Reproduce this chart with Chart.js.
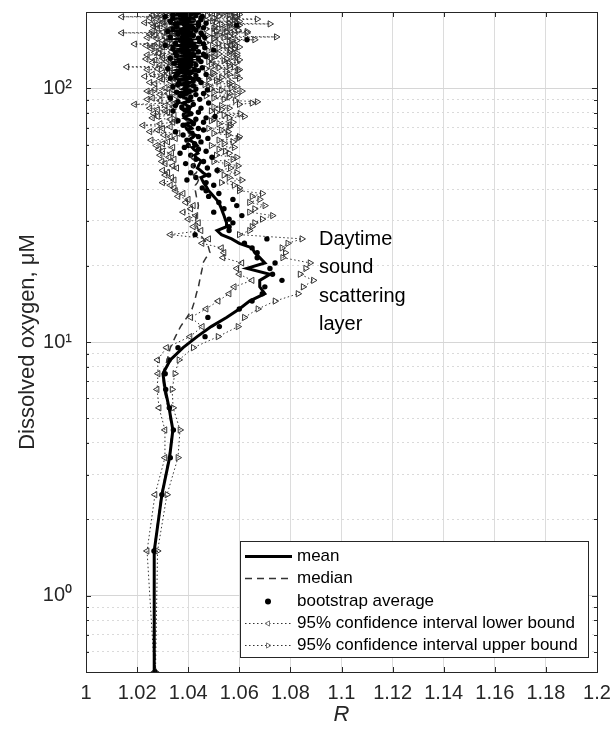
<!DOCTYPE html>
<html><head><meta charset="utf-8">
<script src="https://cdn.jsdelivr.net/npm/chart.js@4/dist/chart.umd.min.js"></script>
<style>html,body{margin:0;padding:0;background:#fff;}canvas{display:block;}</style>
</head><body>
<canvas id="c" width="613" height="734"></canvas>
<script>
// Dissolved oxygen bins (µM)
const oxygen = [
 0.5,1.5,2.5,3.5,4.5,5.5,6.5,7.5,8.5,9.5,
 10.5,11.5,12.5,13.5,14.5,15.5,16.5,17.5,18.5,19.5,
 20.5,21.5,22.5,23.5,24.5,25.5,26.5,27.5,28.5,29.5,
 30.5,31.5,32.5,33.5,34.5,35.5,36.5,37.5,38.5,39.5,
 40.5,41.5,42.5,43.5,44.5,45.5,46.5,47.5,48.5,49.5,
 50.5,51.5,52.5,53.5,54.5,55.5,56.5,57.5,58.5,59.5,
 60.5,61.5,62.5,63.5,64.5,65.5,66.5,67.5,68.5,69.5,
 70.5,71.5,72.5,73.5,74.5,75.5,76.5,77.5,78.5,79.5,
 80.5,81.5,82.5,83.5,84.5,85.5,86.5,87.5,88.5,89.5,
 90.5,91.5,92.5,93.5,94.5,95.5,96.5,97.5,98.5,99.5,
 100.5,101.5,102.5,103.5,104.5,105.5,106.5,107.5,108.5,109.5,
 110.5,111.5,112.5,113.5,114.5,115.5,116.5,117.5,118.5,119.5,
 120.5,121.5,122.5,123.5,124.5,125.5,126.5,127.5,128.5,129.5,
 130.5,131.5,132.5,133.5,134.5,135.5,136.5,137.5,138.5,139.5,
 140.5,141.5,142.5,143.5,144.5,145.5,146.5,147.5,148.5,149.5,
 150.5,151.5,152.5,153.5,154.5,155.5,156.5,157.5,158.5,159.5,
 160.5,161.5,162.5,163.5,164.5,165.5,166.5,167.5,168.5,169.5,
 170.5,171.5,172.5,173.5,174.5,175.5,176.5,177.5,178.5,179.5,
 180.5,181.5,182.5,183.5,184.5,185.5,186.5,187.5,188.5,189.5,
 190.5,191.5,192.5,193.5,194.5,195.5,196.5,197.5,198.5,199.5
];
const meanR = [
 1.0270,1.0267,1.0297,1.0327,1.0340,1.0325,1.0310,1.0301,1.0330,1.0380,
 1.0435,1.0490,1.0550,1.0600,1.0640,1.0700,1.0680,1.0680,1.0720,1.0630,
 1.0700,1.0680,1.0660,1.0650,1.0600,1.0570,1.0530,1.0513,1.0550,1.0550,
 1.0545,1.0540,1.0535,1.0530,1.0525,1.0520,1.0510,1.0500,1.0490,1.0480,
 1.0474,1.0468,1.0460,1.0455,1.0450,1.0472,1.0458,1.0448,1.0436,1.0440,
 1.0445,1.0452,1.0442,1.0430,1.0425,1.0438,1.0432,1.0422,1.0416,1.0435,
 1.0428,1.0418,1.0405,1.0410,1.0422,1.0428,1.0412,1.0405,1.0398,1.0415,
 1.0410,1.0398,1.0392,1.0420,1.0412,1.0402,1.0385,1.0392,1.0402,1.0410,
 1.0395,1.0385,1.0378,1.0405,1.0410,1.0395,1.0388,1.0378,1.0395,1.0412,
 1.0402,1.0390,1.0380,1.0372,1.0390,1.0400,1.0372,1.0415,1.0405,1.0380,
 1.0388,1.0395,1.0410,1.0368,1.0380,1.0408,1.0395,1.0388,1.0370,1.0420,
 1.0402,1.0375,1.0385,1.0398,1.0410,1.0362,1.0380,1.0405,1.0368,1.0385,
 1.0400,1.0372,1.0390,1.0418,1.0372,1.0392,1.0410,1.0365,1.0385,1.0402,
 1.0368,1.0380,1.0400,1.0425,1.0382,1.0395,1.0412,1.0370,1.0402,1.0388,
 1.0372,1.0410,1.0395,1.0375,1.0388,1.0400,1.0415,1.0360,1.0378,1.0392,
 1.0370,1.0415,1.0398,1.0378,1.0388,1.0405,1.0365,1.0385,1.0410,1.0368,
 1.0392,1.0420,1.0370,1.0390,1.0402,1.0375,1.0388,1.0408,1.0365,1.0382,
 1.0398,1.0362,1.0412,1.0398,1.0380,1.0422,1.0395,1.0388,1.0405,1.0370,
 1.0385,1.0405,1.0372,1.0392,1.0410,1.0365,1.0395,1.0412,1.0370,1.0385,
 1.0405,1.0398,1.0385,1.0372,1.0400,1.0418,1.0378,1.0390,1.0410,1.0402
];
const medianR = [
 1.0270,1.0266,1.0295,1.0325,1.0338,1.0322,1.0305,1.0300,1.0318,1.0330,
 1.0350,1.0370,1.0395,1.0415,1.0425,1.0432,1.0440,1.0445,1.0450,1.0455,
 1.0458,1.0470,1.0485,1.0480,1.0474,1.0460,1.0446,1.0440,1.0435,1.0427,
 1.0430,1.0432,1.0435,1.0438,1.0440,1.0438,1.0435,1.0432,1.0430,1.0428,
 1.0430,1.0428,1.0436,1.0440,1.0425,1.0420,1.0432,1.0435,1.0422,1.0415,
 1.0424,1.0430,1.0418,1.0410,1.0412,1.0418,1.0422,1.0425,1.0410,1.0405,
 1.0412,1.0400,1.0408,1.0418,1.0400,1.0410,1.0402,1.0395,1.0405,1.0412,
 1.0398,1.0392,1.0402,1.0405,1.0394,1.0388,1.0398,1.0410,1.0390,1.0395,
 1.0400,1.0385,1.0392,1.0400,1.0390,1.0382,1.0395,1.0392,1.0385,1.0405,
 1.0392,1.0375,1.0385,1.0398,1.0390,1.0388,1.0380,1.0372,1.0395,1.0405,
 1.0382,1.0390,1.0400,1.0370,1.0385,1.0400,1.0378,1.0382,1.0395,1.0408,
 1.0375,1.0368,1.0392,1.0395,1.0380,1.0372,1.0400,1.0410,1.0390,1.0385,
 1.0372,1.0370,1.0398,1.0402,1.0380,1.0390,1.0375,1.0368,1.0395,1.0408,
 1.0385,1.0375,1.0392,1.0395,1.0402,1.0412,1.0380,1.0370,1.0392,1.0388,
 1.0378,1.0402,1.0390,1.0372,1.0385,1.0365,1.0398,1.0405,1.0380,1.0390,
 1.0402,1.0405,1.0378,1.0390,1.0372,1.0368,1.0395,1.0385,1.0410,1.0372,
 1.0388,1.0400,1.0375,1.0412,1.0382,1.0366,1.0390,1.0395,1.0380,1.0405,
 1.0398,1.0372,1.0385,1.0388,1.0402,1.0410,1.0378,1.0392,1.0400,1.0368,
 1.0390,1.0402,1.0382,1.0385,1.0372,1.0410,1.0395,1.0392,1.0380,1.0368,
 1.0388,1.0402,1.0410,1.0385,1.0392,1.0380,1.0375,1.0395,1.0388,1.0400
];
const bootR = [
 1.0270,1.0266,1.0297,1.0330,1.0342,1.0326,1.0312,1.0310,1.0325,1.0360,
 1.0466,1.0522,1.0477,1.0600,1.0650,1.0690,1.0700,1.0767,1.0730,1.0720,
 1.0740,1.0670,1.0670,1.0650,1.0620,1.0708,1.0427,1.0560,1.0560,1.0575,
 1.0560,1.0610,1.0500,1.0540,1.0590,1.0520,1.0575,1.0480,1.0520,1.0470,
 1.0455,1.0500,1.0470,1.0395,1.0430,1.0480,1.0410,1.0513,1.0475,1.0420,
 1.0390,1.0460,1.0430,1.0493,1.0410,1.0368,1.0470,1.0440,1.0385,1.0400,
 1.0425,1.0450,1.0395,1.0477,1.0440,1.0380,1.0415,1.0350,1.0460,1.0440,
 1.0395,1.0380,1.0420,1.0460,1.0360,1.0430,1.0470,1.0505,1.0385,1.0410,
 1.0440,1.0340,1.0400,1.0450,1.0375,1.0350,1.0420,1.0480,1.0360,1.0400,
 1.0445,1.0330,1.0410,1.0370,1.0430,1.0460,1.0355,1.0400,1.0475,1.0430,
 1.0390,1.0340,1.0420,1.0360,1.0395,1.0450,1.0365,1.0420,1.0440,1.0330,
 1.0405,1.0350,1.0430,1.0470,1.0360,1.0410,1.0385,1.0440,1.0425,1.0320,
 1.0455,1.0400,1.0370,1.0430,1.0410,1.0345,1.0390,1.0450,1.0365,1.0410,
 1.0440,1.0330,1.0395,1.0470,1.0355,1.0420,1.0460,1.0350,1.0400,1.0440,
 1.0370,1.0500,1.0420,1.0340,1.0465,1.0430,1.0380,1.0310,1.0420,1.0460,
 1.0350,1.0380,1.0445,1.0410,1.0370,1.0630,1.0405,1.0440,1.0465,1.0330,
 1.0390,1.0420,1.0455,1.0360,1.0400,1.0450,1.0375,1.0320,1.0410,1.0430,
 1.0380,1.0340,1.0420,1.0460,1.0355,1.0410,1.0440,1.0590,1.0385,1.0350,
 1.0470,1.0440,1.0365,1.0330,1.0410,1.0420,1.0450,1.0390,1.0340,1.0450,
 1.0400,1.0310,1.0455,1.0430,1.0370,1.0340,1.0420,1.0410,1.0360,1.0440
];
const lowerR = [
 1.0268,1.0239,1.0270,1.0309,1.0309,1.0286,1.0278,1.0282,1.0280,1.0315,
 1.0407,1.0455,1.0410,1.0470,1.0517,1.0560,1.0580,1.0650,1.0600,1.0590,
 1.0610,1.0536,1.0540,1.0530,1.0454,1.0480,1.0330,1.0450,1.0420,1.0440,
 1.0400,1.0430,1.0380,1.0410,1.0420,1.0390,1.0400,1.0360,1.0380,1.0350,
 1.0345,1.0330,1.0300,1.0345,1.0335,1.0310,1.0320,1.0300,1.0355,1.0340,
 1.0310,1.0297,1.0345,1.0325,1.0290,1.0335,1.0300,1.0285,1.0340,1.0275,
 1.0300,1.0320,1.0255,1.0350,1.0330,1.0305,1.0360,1.0250,1.0280,1.0300,
 1.0330,1.0223,1.0290,1.0340,1.0350,1.0330,1.0260,1.0280,1.0345,1.0265,
 1.0320,1.0310,1.0280,1.0250,1.0345,1.0310,1.0190,1.0330,1.0355,1.0290,
 1.0240,1.0260,1.0330,1.0350,1.0290,1.0320,1.0255,1.0240,1.0340,1.0270,
 1.0310,1.0335,1.0360,1.0355,1.0270,1.0250,1.0330,1.0355,1.0300,1.0290,
 1.0345,1.0230,1.0340,1.0260,1.0320,1.0300,1.0350,1.0365,1.0240,1.0280,
 1.0330,1.0160,1.0330,1.0290,1.0355,1.0345,1.0260,1.0315,1.0340,1.0270,
 1.0235,1.0300,1.0330,1.0360,1.0300,1.0240,1.0355,1.0285,1.0270,1.0335,
 1.0350,1.0365,1.0290,1.0255,1.0330,1.0300,1.0260,1.0235,1.0345,1.0190,
 1.0280,1.0310,1.0320,1.0345,1.0300,1.0325,1.0360,1.0275,1.0240,1.0310,
 1.0330,1.0355,1.0270,1.0250,1.0345,1.0140,1.0300,1.0340,1.0260,1.0320,
 1.0330,1.0330,1.0280,1.0360,1.0350,1.0265,1.0310,1.0280,1.0345,1.0350,
 1.0260,1.0230,1.0300,1.0305,1.0330,1.0340,1.0360,1.0295,1.0275,1.0250,
 1.0345,1.0140,1.0300,1.0355,1.0260,1.0330,1.0340,1.0275,1.0350,1.0310
];
const upperR = [
 1.0272,1.0280,1.0317,1.0360,1.0368,1.0341,1.0337,1.0348,1.0364,1.0420,
 1.0517,1.0595,1.0620,1.0673,1.0740,1.0830,1.0850,1.0890,1.0838,1.0860,
 1.0877,1.0770,1.0780,1.0767,1.0790,1.0845,1.0600,1.0640,1.0650,1.0660,
 1.0690,1.0730,1.0640,1.0660,1.0700,1.0640,1.0680,1.0650,1.0690,1.0600,
 1.0600,1.0580,1.0530,1.0610,1.0560,1.0540,1.0590,1.0520,1.0565,1.0595,
 1.0550,1.0500,1.0575,1.0590,1.0510,1.0560,1.0545,1.0520,1.0580,1.0490,
 1.0540,1.0575,1.0520,1.0595,1.0600,1.0556,1.0500,1.0556,1.0530,1.0480,
 1.0560,1.0565,1.0520,1.0575,1.0490,1.0500,1.0560,1.0620,1.0540,1.0603,
 1.0510,1.0490,1.0530,1.0560,1.0500,1.0530,1.0600,1.0650,1.0670,1.0585,
 1.0540,1.0500,1.0560,1.0470,1.0590,1.0560,1.0500,1.0610,1.0530,1.0490,
 1.0570,1.0590,1.0480,1.0465,1.0560,1.0570,1.0520,1.0510,1.0480,1.0600,
 1.0530,1.0480,1.0590,1.0560,1.0500,1.0495,1.0550,1.0595,1.0600,1.0470,
 1.0520,1.0580,1.0560,1.0505,1.0490,1.0560,1.0590,1.0480,1.0540,1.0600,
 1.0550,1.0490,1.0500,1.0575,1.0590,1.0465,1.0520,1.0590,1.0560,1.0500,
 1.0480,1.0565,1.0580,1.0580,1.0520,1.0600,1.0550,1.0495,1.0570,1.0580,
 1.0520,1.0470,1.0560,1.0570,1.0590,1.0660,1.0500,1.0500,1.0540,1.0745,
 1.0560,1.0475,1.0520,1.0580,1.0500,1.0630,1.0550,1.0630,1.0510,1.0595,
 1.0540,1.0470,1.0500,1.0570,1.0590,1.0505,1.0560,1.0600,1.0530,1.0720,
 1.0560,1.0590,1.0510,1.0600,1.0495,1.0470,1.0580,1.0670,1.0560,1.0500,
 1.0590,1.0585,1.0520,1.0475,1.0560,1.0600,1.0510,1.0580,1.0540,1.0490
];
const xTickValues = [1,1.02,1.04,1.06,1.08,1.1,1.12,1.14,1.16,1.18,1.2];
const yTickLabels = {1:'10\u2070', 10:'10\u00B9', 100:'10\u00B2'};
const seriesNames = ['mean','median','bootstrap average','95% confidence interval lower bound','95% confidence interval upper bound'];
const annotationLines = ['Daytime','sound','scattering','layer'];

const FONT = "'Liberation Sans', Arial, Helvetica, sans-serif";
const AX = '#262626';
const pts = arr => arr.map((r,i)=>({x:r, y:oxygen[i]}));
const isDecade = v => { const l=Math.log10(v); return Math.abs(l-Math.round(l))<1e-6; };
const intMantissa = v => { const e=Math.floor(Math.log10(v)+1e-9); const m=v/Math.pow(10,e); return Math.abs(m-Math.round(m))<1e-6; };

const datasets = [
 {label:seriesNames[0], data:pts(meanR), showLine:true, borderColor:'#000', borderWidth:3, pointRadius:0, tension:0},
 {label:seriesNames[1], data:pts(medianR), showLine:true, borderColor:'#333', borderWidth:1.5, borderDash:[7,5], pointRadius:0, tension:0},
 {label:seriesNames[2], data:pts(bootR), showLine:false, pointRadius:2.7, pointBackgroundColor:'#000', pointBorderColor:'#000', pointBorderWidth:0},
 {label:seriesNames[3], data:pts(lowerR), showLine:true, borderColor:'#333', borderWidth:1, borderDash:[1.5,2.5], pointStyle:'triangle', pointRotation:-90, pointRadius:3.6, pointBorderColor:'#333', pointBackgroundColor:'rgba(255,255,255,0)', pointBorderWidth:1, tension:0},
 {label:seriesNames[4], data:pts(upperR), showLine:true, borderColor:'#333', borderWidth:1, borderDash:[1.5,2.5], pointStyle:'triangle', pointRotation:90, pointRadius:3.6, pointBorderColor:'#333', pointBackgroundColor:'rgba(255,255,255,0)', pointBorderWidth:1, tension:0}
];

const axesDecor = {
 id:'axesDecor',
 afterDatasetsDraw(chart){
  const {ctx, chartArea:a, scales:{x,y}} = chart;
  ctx.save();
  ctx.strokeStyle = AX; ctx.lineWidth = 1;
  ctx.beginPath();
  x.ticks.forEach(t=>{ const px=Math.round(x.getPixelForValue(t.value))+0.5;
    ctx.moveTo(px,a.bottom); ctx.lineTo(px,a.bottom-5);
    ctx.moveTo(px,a.top); ctx.lineTo(px,a.top+5); });
  y.ticks.forEach(t=>{ const py=Math.round(y.getPixelForValue(t.value))+0.5; const L=isDecade(t.value)?5:3;
    ctx.moveTo(a.left,py); ctx.lineTo(a.left+L,py);
    ctx.moveTo(a.right,py); ctx.lineTo(a.right-L,py); });
  ctx.stroke();
  ctx.beginPath();
  ctx.moveTo(a.left, Math.round(a.top)+0.5); ctx.lineTo(a.right, Math.round(a.top)+0.5);
  ctx.moveTo(Math.round(a.right)+0.5, a.top); ctx.lineTo(Math.round(a.right)+0.5, a.bottom);
  ctx.stroke();
  ctx.restore();
 },
 afterDraw(chart){
  const {ctx} = chart;
  ctx.save();
  ctx.fillStyle = '#000'; ctx.font = '20px '+FONT; ctx.textBaseline='middle'; ctx.textAlign='left';
  annotationLines.forEach((s,i)=>ctx.fillText(s, 319, 239 + i*28.5));
  const lx=240, ly=541, lw=348, lh=116;
  ctx.fillStyle='#fff'; ctx.fillRect(lx,ly,lw,lh);
  ctx.strokeStyle=AX; ctx.lineWidth=1; ctx.strokeRect(lx+0.5,ly+0.5,lw,lh);
  const x0=245, x1=292, xm=268;
  chart.data.datasets.forEach((ds,i)=>{
    const yy = Math.round(556 + i*22.3)+0.5;
    ctx.save();
    if (ds.showLine){
      ctx.strokeStyle=ds.borderColor; ctx.lineWidth=ds.borderWidth; ctx.setLineDash(ds.borderDash||[]);
      ctx.beginPath(); ctx.moveTo(x0,yy); ctx.lineTo(x1,yy); ctx.stroke();
    }
    ctx.setLineDash([]);
    if (ds.pointRadius>0){
      ctx.fillStyle = ds.pointBackgroundColor; ctx.strokeStyle = ds.pointStyle ? '#777' : ds.pointBorderColor;
      Chart.helpers.drawPoint(ctx, {pointStyle:ds.pointStyle||'circle', rotation:ds.pointRotation||0, radius:3, borderWidth:ds.pointStyle?1:0}, xm, yy);
    }
    ctx.restore();
    ctx.fillStyle='#000'; ctx.font='17px '+FONT; ctx.textBaseline='middle'; ctx.textAlign='left';
    ctx.fillText(ds.label, 297, yy);
  });
  ctx.restore();
 }
};

new Chart(document.getElementById('c'), {
 type:'scatter',
 data:{datasets},
 options:{
  responsive:false, animation:false, devicePixelRatio:1,
  layout:{padding:{left:0,right:16,top:12,bottom:0}},
  plugins:{legend:{display:false}, tooltip:{enabled:false}},
  scales:{
   x:{type:'linear', min:1, max:1.2,
      afterBuildTicks(s){ s.ticks = xTickValues.map(v=>({value:v})); },
      afterFit(s){ s.height = 62; s.paddingLeft = 0; s.paddingRight = 0; },
      ticks:{autoSkip:false, maxRotation:0, padding:9, color:AX, font:{family:FONT,size:20},
        callback:v=>String(Number(v.toFixed(2)))},
      grid:{color:'#dcdcdc', lineWidth:1, drawTicks:false},
      border:{display:true, color:AX, width:1},
      title:{display:true, text:'R', color:AX, font:{family:FONT,size:22,style:'italic'}, padding:{top:0,bottom:6}}
   },
   y:{type:'logarithmic', min:0.5, max:200,
      afterBuildTicks(s){ s.ticks = s.ticks.filter(t=>intMantissa(t.value)); },
      afterFit(s){ s.width = 86; s.paddingTop = 0; s.paddingBottom = 0; },
      ticks:{autoSkip:false, padding:14, color:AX, font:{family:FONT,size:20},
        callback:v=>{ const k=Math.round(v*1000)/1000; return yTickLabels[k]!==undefined && isDecade(v) ? yTickLabels[k] : ''; }},
      grid:{drawTicks:false, lineWidth:1, color:c=>isDecade(c.tick.value)?'#d6d6d6':'#dadada'},
      border:{display:true, color:AX, width:1, dash:c=>(c.tick && !isDecade(c.tick.value))?[2,3]:[]},
      title:{display:true, text:'Dissolved oxygen, \u03BCM', color:AX, font:{family:FONT,size:22}, padding:{top:15,bottom:0}}
   }
  }
 },
 plugins:[axesDecor]
});
</script>
</body></html>
